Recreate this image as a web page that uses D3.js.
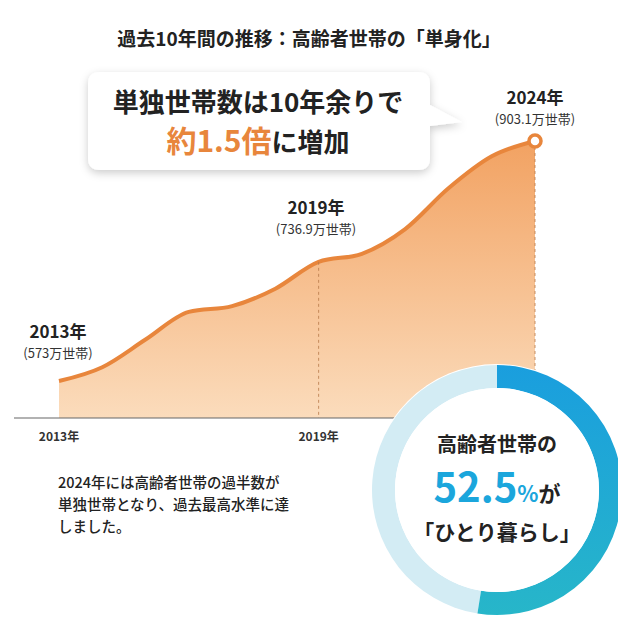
<!DOCTYPE html>
<html><head><meta charset="utf-8">
<script src="https://cdn.jsdelivr.net/npm/d3@7"></script>
<style>body{margin:0;background:#fff;font-family:"Noto Sans CJK JP","Noto Sans",sans-serif;}</style>
</head><body><div id="chart"></div>
<script>
const years = [2013,2014,2015,2016,2017,2018,2019,2020,2021,2022,2023,2024];
const households = [573,592,630,668,676,700,736.9,748,782,838,882,903.1];
const tickYears = [2013,2019];
const shareRatio = 52.5;

const W = 618, H = 617;
const svg = d3.select("#chart").append("svg").attr("width", W).attr("height", H);
const defs = svg.append("defs");
const ag = defs.append("linearGradient").attr("id","area").attr("x1",0).attr("y1",0).attr("x2",0).attr("y2",1);
ag.append("stop").attr("offset","0%").attr("stop-color","#f2a262");
ag.append("stop").attr("offset","100%").attr("stop-color","#fbdcbc");
const bg = defs.append("linearGradient").attr("id","blue").attr("x1",0).attr("y1",0).attr("x2",0).attr("y2",1);
bg.append("stop").attr("offset","0%").attr("stop-color","#1a9ede");
bg.append("stop").attr("offset","100%").attr("stop-color","#27b6c9");
const sh = defs.append("filter").attr("id","sh").attr("x","-20%").attr("y","-20%").attr("width","140%").attr("height","150%");
sh.append("feDropShadow").attr("dx",0).attr("dy",3).attr("stdDeviation",4).attr("flood-color","#000").attr("flood-opacity",0.2);

const x = d3.scaleLinear().domain([2013,2024]).range([59,535]);
const y = d3.scaleLinear().domain([573,903.1]).range([381,141]);
const baseY = 418;

svg.append("text").attr("x",309).attr("y",46).attr("text-anchor","middle")
  .attr("font-size",19).attr("font-weight",700).attr("fill","#222")
  .text("過去10年間の推移：高齢者世帯の「単身化」");

const area = d3.area().x((d,i)=>x(years[i])).y0(baseY).y1(d=>y(d)).curve(d3.curveMonotoneX);
const line = d3.line().x((d,i)=>x(years[i])).y(d=>y(d)).curve(d3.curveMonotoneX);
svg.append("path").attr("d",area(households)).attr("fill","url(#area)");
svg.append("path").attr("d",line(households)).attr("fill","none").attr("stroke","#e8863c").attr("stroke-width",4);

[2019,2024].forEach(yr=>{
  const v = households[years.indexOf(yr)];
  svg.append("line").attr("x1",x(yr)).attr("x2",x(yr)).attr("y1",y(v)).attr("y2",baseY)
    .attr("stroke","#b87a4a").attr("stroke-dasharray","3,3").attr("stroke-width",0.8);
});
svg.append("line").attr("x1",14).attr("x2",400).attr("y1",baseY).attr("y2",baseY).attr("stroke","#666").attr("stroke-width",1.2);
svg.append("circle").attr("cx",x(2024)).attr("cy",y(903.1)).attr("r",6)
  .attr("fill","#fff").attr("stroke","#e8863c").attr("stroke-width",3.5);

tickYears.forEach(yr=>{
  svg.append("text").attr("x",x(yr)).attr("y",441).attr("text-anchor","middle")
    .attr("font-size",12).attr("font-weight",700).attr("fill","#333").text(yr+"年");
});

const labs = [
  {yr:2013, t:"(573万世帯)", x:58, y0:338},
  {yr:2019, t:"(736.9万世帯)", x:316, y0:214},
  {yr:2024, t:"(903.1万世帯)", x:535, y0:104}
];
labs.forEach(l=>{
  svg.append("text").attr("x",l.x).attr("y",l.y0).attr("text-anchor","middle")
    .attr("font-size",17).attr("font-weight",700).attr("fill","#222").text(l.yr+"年");
  svg.append("text").attr("x",l.x).attr("y",l.y0+20).attr("text-anchor","middle")
    .attr("font-size",13).attr("fill","#333").text(l.t);
});

const cg = svg.append("g").attr("filter","url(#sh)");
cg.append("path").attr("fill","#fff")
  .attr("d","M100,72 H418 Q430,72 430,84 V105 L462,122 L430,126 V158 Q430,170 418,170 H100 Q88,170 88,158 V84 Q88,72 100,72 Z");
svg.append("text").attr("x",258).attr("y",112).attr("text-anchor","middle")
  .attr("font-size",26).attr("font-weight",700).attr("fill","#222").text("単独世帯数は10年余りで");
const t2 = svg.append("text").attr("x",258).attr("y",152).attr("text-anchor","middle").attr("font-weight",700);
t2.append("tspan").attr("font-size",30).attr("fill","#e8863c").text("約1.5倍");
t2.append("tspan").attr("font-size",26).attr("fill","#222").text("に増加");

["2024年には高齢者世帯の過半数が","単独世帯となり、過去最高水準に達","しました。"].forEach((s,i)=>{
  svg.append("text").attr("x",58).attr("y",488+i*22).attr("font-size",14.5).attr("font-weight",500).attr("fill","#222").text(s);
});

const cx = 497, cy = 490, ro = 125, ri = 102;
const dg = svg.append("g").attr("transform",`translate(${cx},${cy})`);
dg.append("circle").attr("r",ro+1).attr("fill","#fff");
const arc = d3.arc().innerRadius(ri).outerRadius(ro);
const pie = d3.pie().sort(null)([shareRatio,100-shareRatio]);
dg.append("path").attr("d",arc(pie[1])).attr("fill","#d3ecf4");
dg.append("path").attr("d",arc(pie[0])).attr("fill","url(#blue)");
dg.append("circle").attr("r",ri).attr("fill","#fff");
dg.append("text").attr("y",-38).attr("text-anchor","middle").attr("font-size",20).attr("font-weight",700).attr("fill","#222").text("高齢者世帯の");
const pt = dg.append("text").attr("y",12).attr("text-anchor","middle").attr("font-weight",700);
pt.append("tspan").attr("font-size",40).attr("fill","#1ba6dc").text(shareRatio);
pt.append("tspan").attr("font-size",22).attr("fill","#1ba6dc").text("%");
pt.append("tspan").attr("font-size",22).attr("fill","#222").text("が");
dg.append("text").attr("y",50).attr("text-anchor","middle").attr("font-size",21).attr("font-weight",700).attr("fill","#222").text("「ひとり暮らし」");
</script></body></html>
